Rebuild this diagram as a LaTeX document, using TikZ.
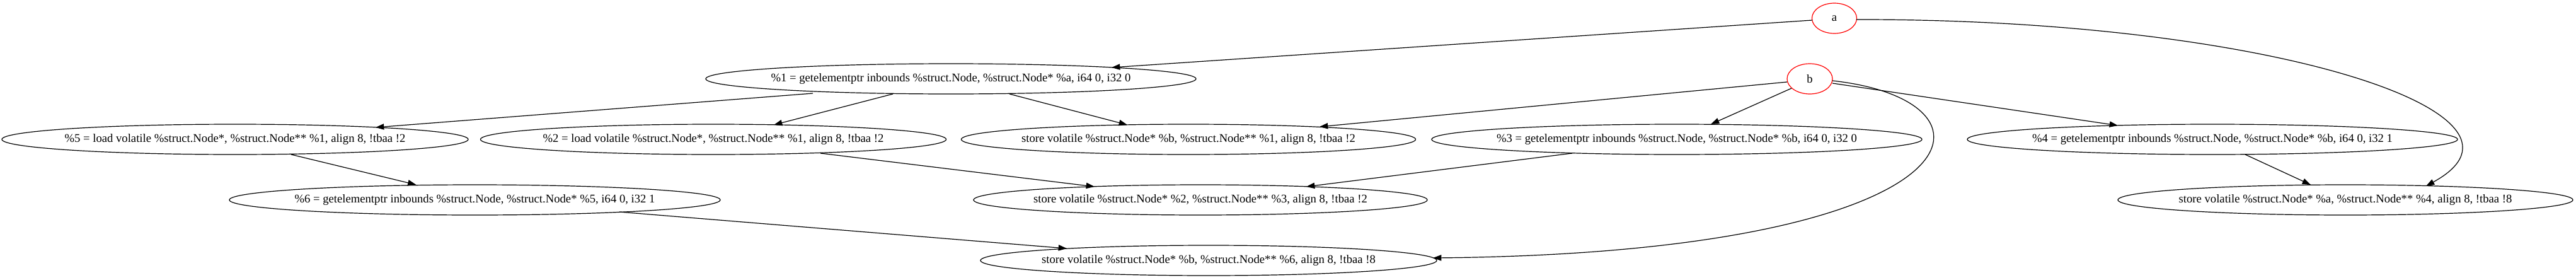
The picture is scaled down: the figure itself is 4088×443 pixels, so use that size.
\documentclass[tikz,border=0pt]{standalone}
\usepackage{fontspec}
\setmainfont{Liberation Serif}
\usetikzlibrary{shapes.geometric,arrows.meta,calc}
\newcommand{\zw}[1]{\makebox[0pt]{#1}}
\tikzset{
  gnode/.style={ellipse, draw=black, line width=0.9pt, inner sep=0pt, minimum height=36pt,
    font=\fontsize{14pt}{16pt}\selectfont},
  rednode/.style={gnode, draw=red},
  edge/.style={draw=black, line width=0.9pt, -{Triangle[length=10pt,width=7pt]}},
}
\begin{document}
\begin{tikzpicture}[x=0.75pt,y=-0.75pt]
\useasboundingbox[fill=white] (0,0) rectangle (4088,443);
% rank 0/1
\node[rednode, minimum width=53.25pt] (a) at (2911,29) {\zw{a}};
\node[rednode, minimum width=54pt] (b) at (2872,125) {\zw{b}};
\node[gnode, minimum width=583.5pt] (n1) at (1509,125) {\zw{\%1 = getelementptr inbounds \%struct.Node, \%struct.Node* \%a, i64 0, i32 0}};
% rank 2
\node[gnode, minimum width=555pt] (n5) at (373,221) {\zw{\%5 = load volatile \%struct.Node*, \%struct.Node** \%1, align 8, !tbaa !2}};
\node[gnode, minimum width=554.25pt] (n2) at (1132,221) {\zw{\%2 = load volatile \%struct.Node*, \%struct.Node** \%1, align 8, !tbaa !2}};
\node[gnode, minimum width=540.75pt] (sb1) at (1886,221) {\zw{store volatile \%struct.Node* \%b, \%struct.Node** \%1, align 8, !tbaa !2}};
\node[gnode, minimum width=583.5pt] (n3) at (2661,221) {\zw{\%3 = getelementptr inbounds \%struct.Node, \%struct.Node* \%b, i64 0, i32 0}};
\node[gnode, minimum width=583.5pt] (n4) at (3511,221) {\zw{\%4 = getelementptr inbounds \%struct.Node, \%struct.Node* \%b, i64 0, i32 1}};
% rank 3
\node[gnode, minimum width=584.25pt] (n6) at (753.5,317) {\zw{\%6 = getelementptr inbounds \%struct.Node, \%struct.Node* \%5, i64 0, i32 1}};
\node[gnode, minimum width=540pt] (s23) at (1905,317) {\zw{store volatile \%struct.Node* \%2, \%struct.Node** \%3, align 8, !tbaa !2}};
\node[gnode, minimum width=541.5pt] (sa4) at (3722,317) {\zw{store volatile \%struct.Node* \%a, \%struct.Node** \%4, align 8, !tbaa !8}};
% rank 4
\node[gnode, minimum width=543pt] (sb6) at (1918,413) {\zw{store volatile \%struct.Node* \%b, \%struct.Node** \%6, align 8, !tbaa !8}};
% edges
\draw[edge] ($(a)+(-35,3)$) -- ($(n1)+(255,-18)$);
\draw[edge] ($(a)+(35,2)$) .. controls (3600,30) and (4060,180) .. ($(sa4)+(128,-22)$);
\draw[edge] ($(n1)+(-219,23)$) -- ($(n5)+(223,-19)$);
\draw[edge] ($(n1)+(-92,24)$) -- ($(n2)+(96,-23)$);
\draw[edge] ($(n1)+(93,24)$) -- ($(sb1)+(-97,-23)$);
\draw[edge] ($(b)+(-36,5)$) -- ($(sb1)+(208,-20)$);
\draw[edge] ($(b)+(-29,15)$) -- ($(n3)+(54,-24)$);
\draw[edge] ($(b)+(36,7)$) -- ($(n4)+(-150,-22)$);
\draw[edge] ($(b)+(36,3)$) .. controls (3200,160) and (3150,400) .. ($(sb6)+(356,-4)$);
\draw[edge] ($(n5)+(89,24)$) -- ($(n6)+(-93,-24)$);
\draw[edge] ($(n2)+(170,22)$) -- ($(s23)+(-168,-21)$);
\draw[edge] ($(n3)+(-166,22)$) -- ($(s23)+(168,-21)$);
\draw[edge] ($(n4)+(52,24)$) -- ($(sa4)+(-55,-24)$);
\draw[edge] ($(n6)+(229,19)$) -- ($(sb6)+(-225,-19)$);
\end{tikzpicture}
\end{document}
